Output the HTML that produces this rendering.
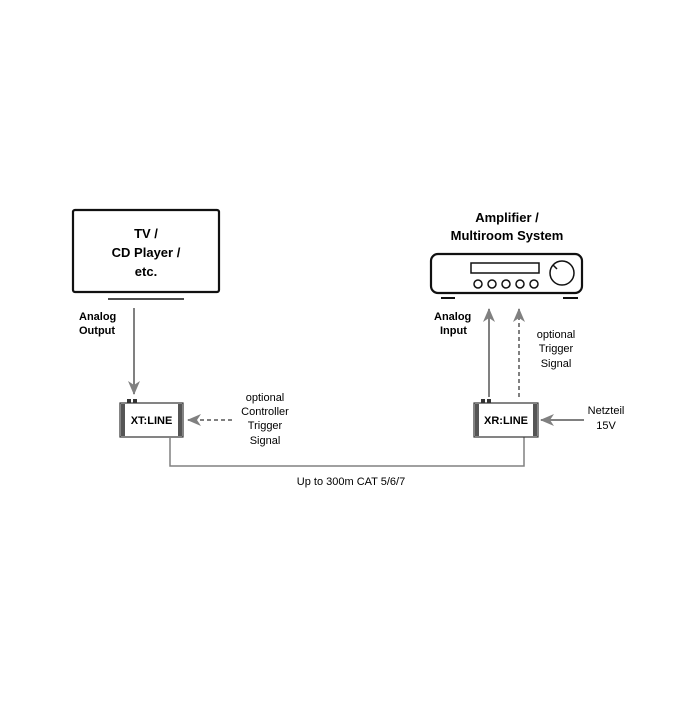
<!DOCTYPE html>
<html><head><style>
body{margin:0;background:#fff;}
svg text{font-family:"Liberation Sans",sans-serif;}
</style></head><body>
<svg width="700" height="700" viewBox="0 0 700 700" xmlns="http://www.w3.org/2000/svg">
<defs>
<marker id="ah" markerWidth="14" markerHeight="14" refX="13" refY="7" orient="auto" markerUnits="userSpaceOnUse">
<path d="M0,1 L14,7 L0,13 L4,7 Z" fill="#808080"/></marker>
</defs>
<!-- TV -->
<rect x="73" y="210" width="146" height="82" rx="2" fill="#fff" stroke="#111" stroke-width="2.2"/>
<text x="146" y="238" font-size="13" font-weight="bold" text-anchor="middle">TV /</text>
<text x="146" y="257" font-size="13" font-weight="bold" text-anchor="middle">CD Player /</text>
<text x="146" y="276" font-size="13" font-weight="bold" text-anchor="middle">etc.</text>
<line x1="108" y1="299" x2="184" y2="299" stroke="#111" stroke-width="1.5"/>
<text x="79" y="320" font-size="11" font-weight="bold">Analog</text>
<text x="79" y="334" font-size="11" font-weight="bold">Output</text>
<line x1="134" y1="308" x2="134" y2="394" stroke="#808080" stroke-width="2" marker-end="url(#ah)"/>
<!-- XT -->
<rect x="127" y="399" width="4" height="4" fill="#333"/><rect x="133" y="399" width="4" height="4" fill="#333"/>
<rect x="120" y="403" width="63" height="34" fill="#fff" stroke="#333" stroke-width="1.2"/>
<rect x="121" y="404" width="4" height="32" fill="#555"/><rect x="178" y="404" width="4" height="32" fill="#555"/>
<text x="151.5" y="424" font-size="11" font-weight="bold" text-anchor="middle">XT:LINE</text>
<line x1="232" y1="420" x2="188" y2="420" stroke="#808080" stroke-width="2" stroke-dasharray="4,3" marker-end="url(#ah)"/>
<text x="265" y="401" font-size="11" text-anchor="middle">optional</text>
<text x="265" y="415" font-size="11" text-anchor="middle">Controller</text>
<text x="265" y="429" font-size="11" text-anchor="middle">Trigger</text>
<text x="265" y="444" font-size="11" text-anchor="middle">Signal</text>
<!-- cable -->
<polyline points="170,437 170,466 524,466 524,437" fill="none" stroke="#808080" stroke-width="1.5"/>
<text x="351" y="485" font-size="11" text-anchor="middle">Up to 300m CAT 5/6/7</text>
<!-- Amplifier -->
<text x="507" y="222" font-size="13" font-weight="bold" text-anchor="middle">Amplifier /</text>
<text x="507" y="240" font-size="13" font-weight="bold" text-anchor="middle">Multiroom System</text>
<rect x="431" y="254" width="151" height="39" rx="7" fill="#fff" stroke="#111" stroke-width="2.2"/>
<rect x="471" y="263" width="68" height="10" fill="#fff" stroke="#111" stroke-width="1.5"/>
<g fill="#fff" stroke="#111" stroke-width="1.5">
<circle cx="478" cy="284" r="4"/><circle cx="492" cy="284" r="4"/><circle cx="506" cy="284" r="4"/><circle cx="520" cy="284" r="4"/><circle cx="534" cy="284" r="4"/>
<circle cx="562" cy="273" r="12"/></g>
<line x1="553" y1="265" x2="557" y2="269" stroke="#111" stroke-width="1.5"/>
<line x1="441" y1="298" x2="455" y2="298" stroke="#111" stroke-width="2"/>
<line x1="563" y1="298" x2="578" y2="298" stroke="#111" stroke-width="2"/>
<text x="434" y="320" font-size="11" font-weight="bold">Analog</text>
<text x="440" y="334" font-size="11" font-weight="bold">Input</text>
<line x1="489" y1="397" x2="489" y2="309" stroke="#808080" stroke-width="2" marker-end="url(#ah)"/>
<line x1="519" y1="397" x2="519" y2="309" stroke="#808080" stroke-width="2" stroke-dasharray="4,3" marker-end="url(#ah)"/>
<text x="556" y="338" font-size="11" text-anchor="middle">optional</text>
<text x="556" y="352" font-size="11" text-anchor="middle">Trigger</text>
<text x="556" y="367" font-size="11" text-anchor="middle">Signal</text>
<!-- XR -->
<rect x="481" y="399" width="4" height="4" fill="#333"/><rect x="487" y="399" width="4" height="4" fill="#333"/>
<rect x="474" y="403" width="64" height="34" fill="#fff" stroke="#333" stroke-width="1.2"/>
<rect x="475" y="404" width="4" height="32" fill="#555"/><rect x="533" y="404" width="4" height="32" fill="#555"/>
<text x="506" y="424" font-size="11" font-weight="bold" text-anchor="middle">XR:LINE</text>
<line x1="584" y1="420" x2="541" y2="420" stroke="#808080" stroke-width="2" marker-end="url(#ah)"/>
<text x="606" y="414" font-size="11" text-anchor="middle">Netzteil</text>
<text x="606" y="429" font-size="11" text-anchor="middle">15V</text>
</svg>
</body></html>
